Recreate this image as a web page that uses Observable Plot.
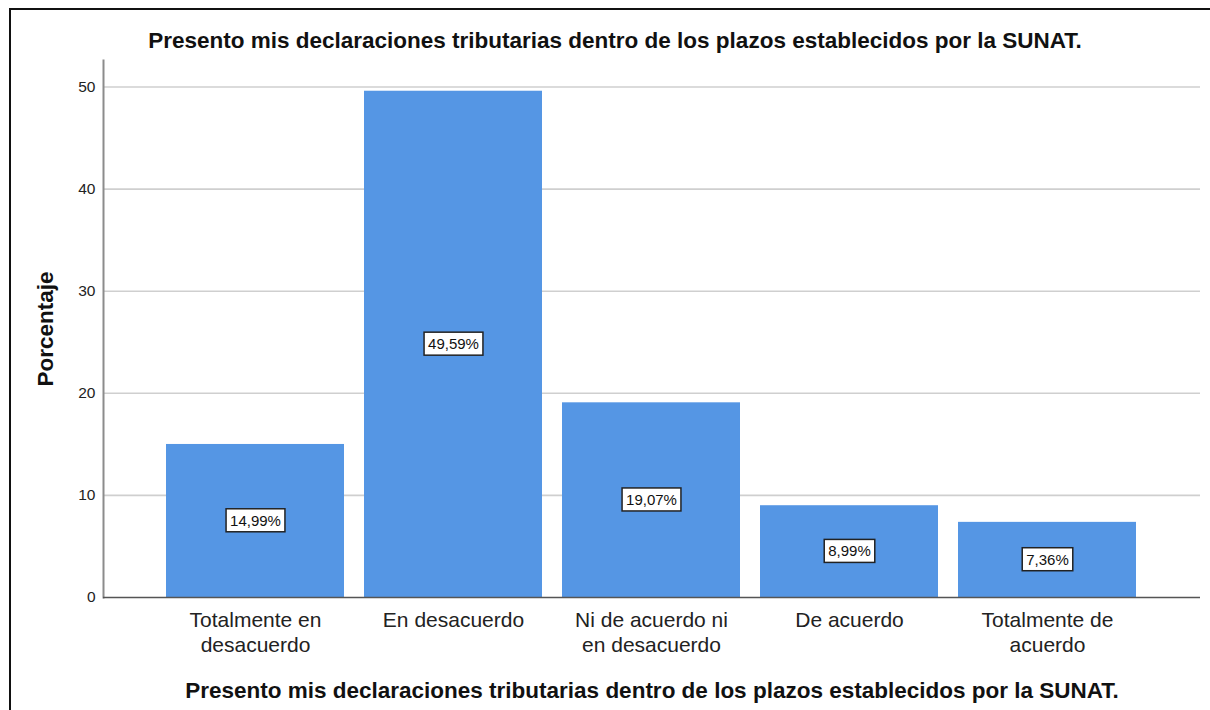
<!DOCTYPE html>
<html>
<head>
<meta charset="utf-8">
<script src="https://cdn.jsdelivr.net/npm/d3@7"></script>
<script src="https://cdn.jsdelivr.net/npm/@observablehq/plot@0.6"></script>
<style>
  html, body { margin: 0; padding: 0; background: #fff; }
  body { font-family: "Liberation Sans", Arial, sans-serif; }
  #wrap { position: relative; width: 1210px; height: 710px; overflow: hidden; background: #fff; }
  #border { position: absolute; left: 9px; top: 8px; width: 1300px; height: 800px;
            border-left: 2px solid #111; border-top: 2px solid #111; }
  #title { position: absolute; left: 0; top: 29px; width: 1230px; text-align: center;
           font: bold 22.5px/24px "Liberation Sans", Arial, sans-serif; color: #111; white-space: nowrap; }
  #chart { position: absolute; left: 0; top: 50px; }
  #chart svg { overflow: visible; }
  #chart g[aria-label="x-axis label"] text,
  #chart g[aria-label="y-axis label"] text { font-size: 22.5px; font-weight: bold; fill: #111; }
</style>
</head>
<body>
<div id="wrap">
  <div id="border"></div>
  <div id="title">Presento mis declaraciones tributarias dentro de los plazos establecidos por la SUNAT.</div>
  <div id="chart"></div>
</div>
<script>
const titleText = "Presento mis declaraciones tributarias dentro de los plazos establecidos por la SUNAT.";
const categories = [
  "Totalmente en\ndesacuerdo",
  "En desacuerdo",
  "Ni de acuerdo ni\nen desacuerdo",
  "De acuerdo",
  "Totalmente de\nacuerdo"
];
const percentages = [14.99, 49.59, 19.07, 8.99, 7.36];
const yTicks = [0, 10, 20, 30, 40, 50];
const yLabel = "Porcentaje";

const data = categories.map((c, i) => ({category: c, value: percentages[i]}));
const fmt = v => v.toFixed(2).replace(".", ",") + "%";

const plot = Plot.plot({
  width: 1210,
  height: 660,
  marginTop: 10,
  marginBottom: 113,
  marginLeft: 103,
  marginRight: 10,
  style: {fontFamily: '"Liberation Sans", Arial, sans-serif', color: "#222", background: "transparent"},
  x: {type: "band", domain: categories, paddingInner: 0.1, paddingOuter: 0.32},
  y: {domain: [0, 52.6]},
  marks: [
    Plot.gridY(yTicks.filter(d => d > 0), {stroke: "#cfcfcf", strokeOpacity: 1, strokeWidth: 1.6}),
    Plot.barY(data, {x: "category", y: "value", fill: "#5596e4"}),
    Plot.frame({anchor: "left", stroke: "#8c8c8c", strokeWidth: 2}),
    Plot.ruleY([0], {stroke: "#555", strokeWidth: 1.6}),
    Plot.axisY({ticks: yTicks, tickSize: 0, tickPadding: 8, fontSize: 15.5, tickFormat: d3.format("d"),
                label: yLabel, labelAnchor: "center", labelArrow: false, labelOffset: 66}),
    Plot.axisX({tickSize: 0, tickPadding: 12, fontSize: 21, lineHeight: 1.17,
                label: titleText, labelAnchor: "center", labelArrow: false, labelOffset: 100}),
    Plot.text(data, {x: "category", y: d => d.value / 2, text: d => fmt(d.value), fontSize: 15, fill: "#111"})
  ]
});
document.getElementById("chart").appendChild(plot);

// white boxes with dark border behind the value labels
const svg = plot.tagName.toLowerCase() === "svg" ? plot : plot.querySelector("svg");
svg.querySelectorAll('g[aria-label="text"] text').forEach(t => {
  const bb = t.getBBox();
  const r = document.createElementNS("http://www.w3.org/2000/svg", "rect");
  const px = 4, py = 4;
  r.setAttribute("x", bb.x - px);
  r.setAttribute("y", bb.y - py + 1);
  r.setAttribute("width", bb.width + 2 * px);
  r.setAttribute("height", bb.height + 2 * py - 2);
  r.setAttribute("fill", "#fff");
  r.setAttribute("stroke", "#222");
  r.setAttribute("stroke-width", 1.5);
  const tr = t.getAttribute("transform");
  if (tr) r.setAttribute("transform", tr);
  t.parentNode.insertBefore(r, t);
});
</script>
</body>
</html>
